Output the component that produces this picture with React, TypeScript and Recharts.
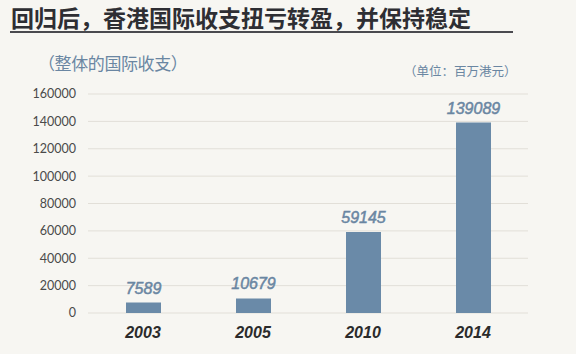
import { BarChart, Bar, XAxis, YAxis, CartesianGrid, LabelList } from "recharts"

const years = ["2003", "2005", "2010", "2014"]
const balance = [7589, 10679, 59145, 139089]
const yTicks = [0, 20000, 40000, 60000, 80000, 100000, 120000, 140000, 160000]

const data = years.map((year, i) => ({ year, value: balance[i] }))

const barColor = "#6a8aa8"
const labelColor = "#6a86a2"

export default function App() {
  return (
    <div
      style={{
        position: "absolute",
        top: 0,
        left: 0,
        width: 576,
        height: 354,
        background: "#f7f6f2",
        fontFamily: "'Noto Sans CJK SC', 'Noto Sans', sans-serif",
      }}
    >
      <div
        style={{
          position: "absolute",
          left: 11,
          top: 0,
          fontSize: 23,
          lineHeight: "normal",
          fontWeight: 700,
          color: "#2e2e33",
          whiteSpace: "nowrap",
        }}
      >
        回归后，香港国际收支扭亏转盈，并保持稳定
      </div>
      <div
        style={{
          position: "absolute",
          left: 10,
          top: 31,
          width: 503,
          height: 2,
          background: "#4a4a4f",
        }}
      />
      <div
        style={{
          position: "absolute",
          left: 38,
          top: 52,
          fontSize: 17,
          lineHeight: "22px",
          letterSpacing: -0.4,
          color: labelColor,
          whiteSpace: "nowrap",
        }}
      >
        （整体的国际收支）
      </div>
      <div
        style={{
          position: "absolute",
          left: 404,
          top: 62,
          fontSize: 12.5,
          lineHeight: "17px",
          color: labelColor,
          whiteSpace: "nowrap",
        }}
      >
        （单位：百万港元）
      </div>
      <div style={{ position: "absolute", left: 0, top: 0 }}>
        <BarChart
          width={576}
          height={354}
          data={data}
          margin={{ top: 94, right: 48, bottom: 8, left: 0 }}
          barSize={35}
        >
          <CartesianGrid vertical={false} stroke="#e2dfd8" strokeWidth={1} />
          <XAxis
            dataKey="year"
            axisLine={false}
            tickLine={false}
            height={33}
            tick={{
              fontSize: 16,
              fontWeight: 700,
              fontStyle: "italic",
              fill: "#2b2b2b",
              fontFamily: "'Liberation Sans', Arial, sans-serif",
            }}
            tickMargin={8}
          />
          <YAxis
            width={88}
            domain={[0, 160000]}
            ticks={yTicks}
            interval={0}
            axisLine={false}
            tickLine={false}
            tickMargin={6}
            tick={{ fontSize: 12.5, fill: "#4a4a4a", fontFamily: "Lato, sans-serif" }}
          />
          <Bar dataKey="value" fill={barColor} isAnimationActive={false}>
            <LabelList
              dataKey="value"
              position="top"
              offset={9}
              style={{
                fontSize: 16,
                fontStyle: "italic",
                fill: labelColor,
                stroke: labelColor,
                strokeWidth: 0.5,
                fontFamily: "'Liberation Sans', Arial, sans-serif",
              }}
            />
          </Bar>
        </BarChart>
      </div>
    </div>
  )
}
